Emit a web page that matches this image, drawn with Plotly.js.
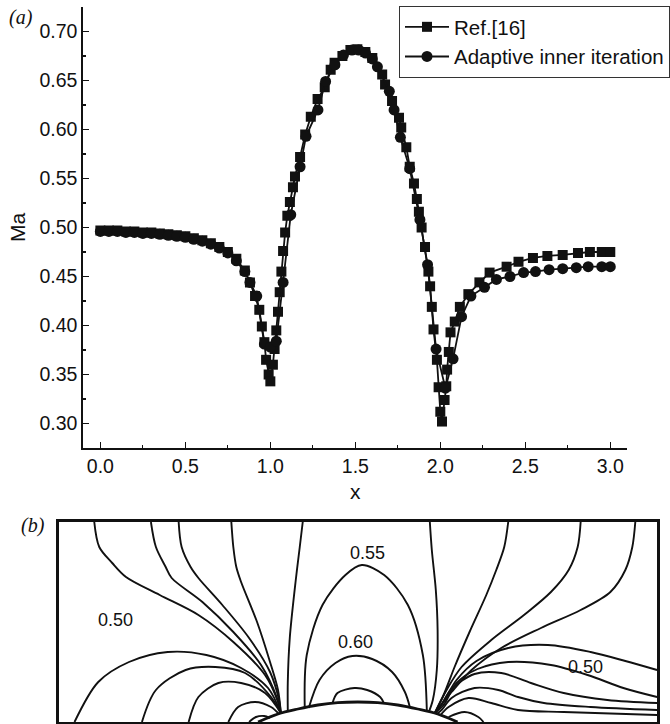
<!DOCTYPE html>
<html>
<head>
<meta charset="utf-8">
<script src="https://cdn.plot.ly/plotly-3.0.1.min.js"></script>
<style>
  html, body { margin: 0; padding: 0; background: #fff; }
  #plot { width: 670px; height: 724px; }
</style>
</head>
<body>
<div id="plot"></div>
<script>
// ---- (a) Mach number along the lower wall ----
const xRef = [0, 0.05, 0.10, 0.15, 0.20, 0.25, 0.30, 0.35, 0.40, 0.45, 0.50, 0.55, 0.60, 0.65, 0.70, 0.75, 0.80, 0.85,
  0.88, 0.91, 0.935, 0.95, 0.965, 0.975, 0.99, 1.00,
  1.015, 1.025, 1.035, 1.045, 1.055, 1.065, 1.075, 1.087, 1.10, 1.115, 1.133, 1.145, 1.175, 1.205,
  1.238, 1.278, 1.32, 1.355, 1.378, 1.424, 1.471, 1.512, 1.559, 1.60,
  1.658, 1.675, 1.716, 1.757, 1.77, 1.80, 1.82, 1.845, 1.862, 1.874, 1.89, 1.91, 1.93, 1.94, 1.95, 1.96, 1.98, 1.99, 2.00, 2.01,
  2.025, 2.035, 2.04, 2.05, 2.06, 2.085, 2.115, 2.165, 2.23, 2.29, 2.39, 2.46, 2.545, 2.63, 2.72, 2.81, 2.88, 2.95, 3.00];
const maRef = [0.497, 0.497, 0.497, 0.496, 0.496, 0.495, 0.495, 0.494, 0.493, 0.492, 0.491, 0.489, 0.487, 0.484, 0.480, 0.475, 0.468, 0.456,
  0.444, 0.430, 0.416, 0.399, 0.383, 0.365, 0.350, 0.343,
  0.360, 0.376, 0.395, 0.414, 0.434, 0.455, 0.476, 0.495, 0.512, 0.526, 0.541, 0.552, 0.572, 0.595,
  0.613, 0.631, 0.643, 0.661, 0.668, 0.675, 0.681, 0.682, 0.679, 0.673,
  0.656, 0.646, 0.629, 0.612, 0.602, 0.582, 0.562, 0.545, 0.529, 0.516, 0.500, 0.480, 0.455, 0.440, 0.419, 0.396, 0.365, 0.337, 0.312, 0.302,
  0.324, 0.338, 0.355, 0.373, 0.393, 0.404, 0.419, 0.432, 0.444, 0.454, 0.460, 0.465, 0.469, 0.471, 0.472, 0.474, 0.475, 0.475, 0.475];

const xAdaptive = [0, 0.05, 0.10, 0.15, 0.20, 0.25, 0.30, 0.35, 0.40, 0.45, 0.50, 0.55, 0.60, 0.65, 0.70, 0.75, 0.80, 0.85,
  0.88, 0.92, 0.965, 1.00, 1.035, 1.075, 1.12, 1.175, 1.21, 1.28,
  1.325, 1.38, 1.43, 1.48, 1.52, 1.56, 1.60, 1.63, 1.70, 1.728,
  1.765, 1.82, 1.88, 1.925, 1.975, 2.03, 2.075, 2.125, 2.18, 2.26,
  2.33, 2.41, 2.49, 2.56, 2.64, 2.72, 2.80, 2.87, 2.95, 3.00];
const maAdaptive = [0.496, 0.496, 0.496, 0.495, 0.495, 0.494, 0.494, 0.493, 0.492, 0.491, 0.490, 0.488, 0.486, 0.483, 0.479, 0.474, 0.466, 0.455,
  0.444, 0.430, 0.381, 0.378, 0.384, 0.444, 0.513, 0.562, 0.593, 0.620,
  0.649, 0.666, 0.676, 0.681, 0.681, 0.678, 0.672, 0.664, 0.639, 0.620,
  0.592, 0.560, 0.508, 0.462, 0.376, 0.336, 0.366, 0.409, 0.430, 0.439,
  0.447, 0.450, 0.454, 0.455, 0.457, 0.458, 0.459, 0.460, 0.460, 0.460];

const seriesNames = ['Ref.[16]', 'Adaptive inner iteration'];
const xTickStep = 0.5;
const yTickStep = 0.05;

// ---- (b) Mach contours in the bump channel, [x, y] pairs ----
const wallBump = [[1.0, 0], [1.1, 0.04], [1.2, 0.065], [1.3, 0.085], [1.4, 0.097], [1.5, 0.10],
  [1.6, 0.097], [1.7, 0.085], [1.8, 0.065], [1.9, 0.04], [2.0, 0]];

const isoA = [[0.179, 1.0], [0.204, 0.875], [0.269, 0.795], [0.338, 0.725], [0.507, 0.635], [0.701, 0.535], [0.876, 0.40], [1.035, 0.235], [1.10, 0.10], [1.114, 0.045]];
const isoB = [[0.463, 1.0], [0.488, 0.875], [0.537, 0.775], [0.567, 0.72], [0.721, 0.60], [0.876, 0.45], [1.015, 0.285], [1.095, 0.12], [1.114, 0.045]];
const isoC = [[0.602, 1.0], [0.617, 0.875], [0.662, 0.775], [0.701, 0.72], [0.821, 0.585], [0.955, 0.42], [1.060, 0.25], [1.105, 0.11], [1.114, 0.045]];
const isoD = [[0.866, 1.0], [0.876, 0.875], [0.891, 0.775], [0.915, 0.70], [0.995, 0.50], [1.060, 0.30], [1.100, 0.16], [1.114, 0.045]];
const isoE = [[1.224, 1.0], [1.209, 0.875], [1.189, 0.71], [1.159, 0.42], [1.149, 0.20], [1.149, 0.052]];
const isoP1 = [[0.08, 0], [0.199, 0.20], [0.353, 0.30], [0.547, 0.35], [0.741, 0.335], [0.915, 0.27], [1.050, 0.17], [1.114, 0.045]];
const isoP2 = [[0.418, 0], [0.488, 0.16], [0.637, 0.26], [0.786, 0.275], [0.935, 0.245], [1.065, 0.125], [1.114, 0.045]];
const isoP3 = [[0.652, 0], [0.701, 0.125], [0.801, 0.195], [0.915, 0.195], [1.035, 0.145], [1.114, 0.045]];
const isoP4 = [[0.851, 0], [0.900, 0.075], [0.985, 0.10], [1.065, 0.075], [1.105, 0.04]];
const isoP5 = [[0.955, 0], [0.99, 0.025], [1.03, 0.03], [1.06, 0.02]];
const iso055 = [[1.234, 0.072], [1.244, 0.335], [1.323, 0.585], [1.438, 0.735], [1.52, 0.785], [1.632, 0.735], [1.751, 0.585], [1.826, 0.335], [1.846, 0.055]];
const iso060 = [[1.254, 0.07], [1.308, 0.21], [1.388, 0.295], [1.473, 0.33], [1.572, 0.315], [1.672, 0.25], [1.736, 0.15], [1.761, 0.074]];
const iso065 = [[1.373, 0.094], [1.398, 0.145], [1.483, 0.17], [1.547, 0.16], [1.612, 0.125], [1.632, 0.092]];
const isoF = [[1.861, 1.0], [1.871, 0.86], [1.891, 0.66], [1.900, 0.46], [1.896, 0.26], [1.876, 0.11], [1.856, 0.05]];
const isoG = [[2.254, 1.0], [2.234, 0.875], [2.194, 0.76], [2.144, 0.635], [2.060, 0.45], [1.985, 0.275], [1.930, 0.135], [1.886, 0.045]];
const isoH = [[2.617, 1.0], [2.602, 0.875], [2.557, 0.76], [2.468, 0.65], [2.333, 0.535], [2.169, 0.41], [2.020, 0.275], [1.945, 0.16], [1.886, 0.045]];
const isoI = [[2.891, 1.0], [2.876, 0.875], [2.841, 0.76], [2.766, 0.65], [2.617, 0.56], [2.418, 0.47], [2.219, 0.37], [2.070, 0.26], [1.970, 0.15], [1.886, 0.045]];
const isoJ = [[3.0, 0.26], [2.841, 0.305], [2.667, 0.35], [2.453, 0.385], [2.254, 0.37], [2.095, 0.305], [1.995, 0.21], [1.925, 0.095], [1.886, 0.045]];
const isoK = [[3.0, 0.125], [2.831, 0.17], [2.652, 0.235], [2.468, 0.285], [2.254, 0.30], [2.100, 0.265], [1.995, 0.195], [1.930, 0.085], [1.886, 0.045]];
const isoL = [[3.0, 0.095], [2.751, 0.11], [2.532, 0.145], [2.368, 0.195], [2.219, 0.245], [2.085, 0.24], [1.970, 0.165], [1.915, 0.08], [1.886, 0.045]];
const isoM = [[3.0, 0.06], [2.667, 0.075], [2.433, 0.095], [2.303, 0.125], [2.204, 0.16], [2.085, 0.17], [1.970, 0.12], [1.92, 0.06], [1.895, 0.04]];
const isoN = [[3.0, 0.035], [2.532, 0.05], [2.303, 0.06], [2.169, 0.095], [2.055, 0.12], [1.955, 0.075], [1.915, 0.035]];
const isoQ = [[1.955, 0.025], [2.035, 0.05], [2.104, 0.025], [2.13, 0]];

const contourLines = [isoA, isoB, isoC, isoD, isoE, isoP1, isoP2, isoP3, isoP4, isoP5,
  iso055, iso060, iso065, isoF, isoG, isoH, isoI, isoJ, isoK, isoL, isoM, isoN, isoQ];

const levelText = ['0.55', '0.50', '0.60', '0.50'];
const levelX = [1.547, 0.284, 1.488, 2.642];
const levelY = [0.845, 0.51, 0.40, 0.275];

// ---- traces ----
const FONT = 'Liberation Sans, Arial, Helvetica, sans-serif';
const INK = '#111';

const traces = [
  {
    x: xRef, y: maRef, name: seriesNames[0], type: 'scatter', mode: 'lines+markers',
    line: { color: INK, width: 1.8 },
    marker: { symbol: 'square', size: 10, color: INK },
    xaxis: 'x', yaxis: 'y'
  },
  {
    x: xAdaptive, y: maAdaptive, name: seriesNames[1], type: 'scatter', mode: 'lines+markers',
    line: { color: INK, width: 1.8 },
    marker: { symbol: 'circle', size: 11, color: INK },
    xaxis: 'x', yaxis: 'y'
  }
];

contourLines.forEach(function (pts) {
  traces.push({
    x: pts.map(p => p[0]), y: pts.map(p => p[1]),
    type: 'scatter', mode: 'lines', showlegend: false, hoverinfo: 'skip',
    line: { color: INK, width: 1.9, shape: 'spline', smoothing: 0.9 },
    xaxis: 'x2', yaxis: 'y2'
  });
});

traces.push({
  x: wallBump.map(p => p[0]), y: wallBump.map(p => p[1]),
  type: 'scatter', mode: 'lines', showlegend: false, hoverinfo: 'skip',
  line: { color: INK, width: 2.8, shape: 'spline', smoothing: 1 },
  xaxis: 'x2', yaxis: 'y2'
});

const annotations = [
  { text: '(a)', xref: 'paper', yref: 'paper', x: 7 / 670, y: 1 - 18 / 724, xanchor: 'left', yanchor: 'middle',
    showarrow: false, font: { family: 'Liberation Serif, Times New Roman, serif', size: 20, color: INK, style: 'italic' } },
  { text: '(b)', xref: 'paper', yref: 'paper', x: 19 / 670, y: 1 - 525 / 724, xanchor: 'left', yanchor: 'middle',
    showarrow: false, font: { family: 'Liberation Serif, Times New Roman, serif', size: 20, color: INK, style: 'italic' } }
];
levelText.forEach(function (t, i) {
  annotations.push({
    text: t, xref: 'x2', yref: 'y2', x: levelX[i], y: levelY[i], showarrow: false,
    xanchor: 'center', yanchor: 'middle', font: { family: FONT, size: 18, color: INK }
  });
});

const layout = {
  width: 670, height: 724,
  margin: { l: 0, r: 0, t: 0, b: 0 },
  paper_bgcolor: '#fff', plot_bgcolor: '#fff',
  font: { family: FONT, color: INK },
  showlegend: true,
  legend: {
    x: 402 / 670, y: 1 - 6 / 724, xanchor: 'left', yanchor: 'top',
    bgcolor: '#fff', bordercolor: '#333', borderwidth: 1,
    font: { family: FONT, size: 20.5, color: INK },
    itemwidth: 44, tracegroupgap: 0
  },
  xaxis: {
    domain: [84 / 670, 632 / 670], anchor: 'y', range: [-0.1, 3.1],
    showline: true, linecolor: INK, linewidth: 2, mirror: false,
    showgrid: false, zeroline: false,
    ticks: 'inside', ticklen: 6, tickwidth: 1.5, tickcolor: INK,
    tick0: 0, dtick: xTickStep, tickformat: '.1f',
    minor: { ticks: 'inside', ticklen: 3, tickwidth: 1.2, tickcolor: INK, dtick: xTickStep / 2, showgrid: false },
    tickfont: { family: FONT, size: 19.5, color: INK },
    title: { text: 'x', font: { family: FONT, size: 21, color: INK }, standoff: 8 },
    automargin: false
  },
  yaxis: {
    domain: [1 - 448 / 724, 1 - 7 / 724], anchor: 'x', range: [0.275, 0.725],
    showline: true, linecolor: INK, linewidth: 2, mirror: false,
    showgrid: false, zeroline: false,
    ticks: 'inside', ticklen: 6, tickwidth: 1.5, tickcolor: INK,
    tick0: 0.30, dtick: yTickStep, tickformat: '.2f',
    minor: { ticks: 'inside', ticklen: 3, tickwidth: 1.2, tickcolor: INK, dtick: yTickStep / 2, showgrid: false },
    tickfont: { family: FONT, size: 19.5, color: INK },
    title: { text: 'Ma', font: { family: FONT, size: 21, color: INK }, standoff: 8 },
    automargin: false
  },
  xaxis2: {
    domain: [59 / 670, 662 / 670], anchor: 'y2', range: [0, 3],
    showline: true, mirror: true, linecolor: INK, linewidth: 2.8,
    showgrid: false, zeroline: false, showticklabels: false, ticks: ''
  },
  yaxis2: {
    domain: [1 - 722 / 724, 1 - 522 / 724], anchor: 'x2', range: [0, 1],
    showline: true, mirror: true, linecolor: INK, linewidth: 2.8,
    showgrid: false, zeroline: false, showticklabels: false, ticks: ''
  },
  annotations: annotations
};

Plotly.newPlot('plot', traces, layout, { displayModeBar: false, staticPlot: true });
</script>
</body>
</html>
